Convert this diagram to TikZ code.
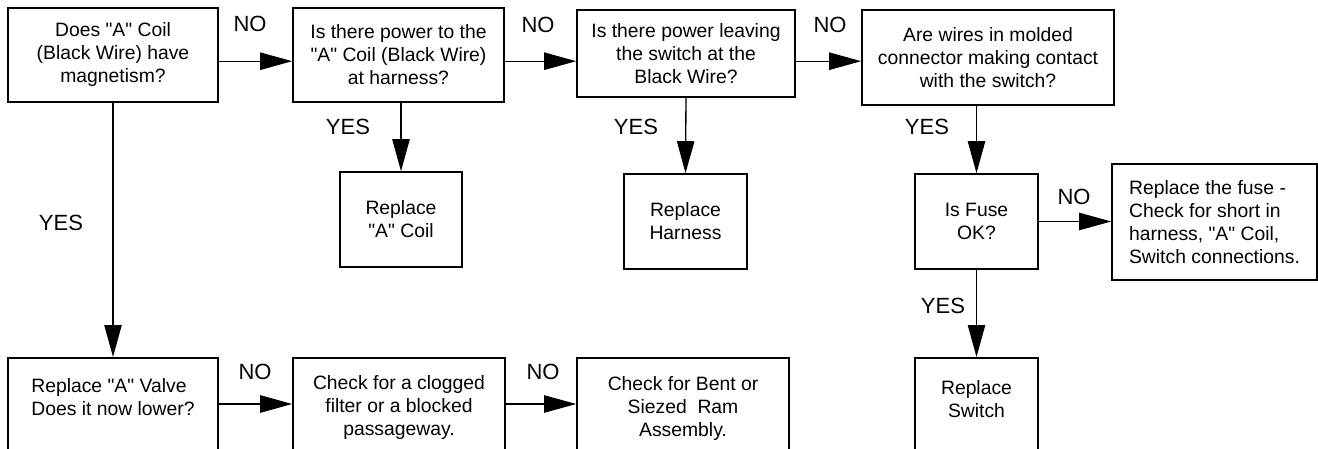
\documentclass[tikz,border=0pt]{standalone}
\usepackage{fontspec}
\setmainfont{Liberation Sans}[Ligatures=TeXOff]
\usetikzlibrary{arrows.meta}
\begin{document}
\begin{tikzpicture}[x=0.75pt,y=-0.75pt,
  box/.style={draw,line width=1.2pt,align=center,inner sep=0pt,font=\fontsize{14.5}{17.25}\selectfont},
  lowbox/.style={box,anchor=north,text depth=60pt},
  lbl/.style={inner sep=0pt,font=\fontsize{16.5}{19}\selectfont},
  flow/.style={line width=1pt,-{Triangle[length=24pt,width=13pt]}}]
  \clip (0,0) rectangle (1318,449);
  \node[box,minimum width=157.5pt,minimum height=70.5pt] (mag) at (113,55) {Does "A" Coil\\(Black Wire) have\\magnetism?};
  \node[box,minimum width=158.25pt,minimum height=70.5pt] (power) at (398.5,55) {Is there power to the\\"A" Coil (Black Wire)\\at harness?};
  \node[box,minimum width=163.5pt,minimum height=65.25pt] (leave) at (686,53.5) {Is there power leaving\\the switch at the\\Black Wire?};
  \node[box,minimum width=189pt,minimum height=71.25pt] (contact) at (988,57.5) {Are wires in molded\\connector making contact\\with the switch?};
  \node[box,minimum width=91.5pt,minimum height=71.25pt] (coil) at (401,219.5) {Replace\\"A" Coil};
  \node[box,minimum width=92.25pt,minimum height=71.25pt] (harness) at (685.5,221.5) {Replace\\Harness};
  \node[box,minimum width=92.25pt,minimum height=71.25pt] (fuse) at (976.5,221.5) {Is Fuse\\OK?};
  \node[box,align=left,minimum width=153.75pt,minimum height=87pt] (fusefix) at (1214.5,222) {Replace the fuse -\\Check for short in\\harness, "A" Coil,\\Switch connections.};
  \node[lowbox,minimum width=92.25pt,text height=45pt] (switch) at (976.5,357) {Replace\\Switch};
  \node[lowbox,align=left,minimum width=157.5pt,text height=43.5pt] (valve) at (113,357) {Replace "A" Valve\\Does it now lower?};
  \node[lowbox,minimum width=159pt,text height=58.5pt] (filter) at (399,357) {Check for a clogged\\filter or a blocked\\passageway.};
  \node[lowbox,minimum width=159pt,text height=59.25pt] (ram) at (683,357) {Check for Bent or\\Siezed~~Ram\\Assembly.};
  \node[lbl] (no1) at (250,24) {NO};
  \node[lbl] (no2) at (538,25) {NO};
  \node[lbl] (no3) at (830,25) {NO};
  \node[lbl] (no4) at (1074,197) {NO};
  \node[lbl] (no5) at (255,372) {NO};
  \node[lbl] (no6) at (543,372) {NO};
  \node[lbl] (yes1) at (61,223) {YES};
  \node[lbl] (yes2) at (348,127) {YES};
  \node[lbl] (yes3) at (636,127) {YES};
  \node[lbl] (yes4) at (927,127) {YES};
  \node[lbl] (yes5) at (943,306) {YES};
  \draw[flow] ([yshift=-40.5pt]mag.north east) -- ([yshift=-40.5pt]power.north west);
  \draw[flow] ([yshift=-40.5pt]power.north east) -- ([yshift=-39pt]leave.north west);
  \draw[flow] ([yshift=-39pt]leave.north east) -- ([yshift=-39pt]contact.north west);
  \draw[flow] (mag.south) -- (valve.north);
  \draw[flow] (coil.north |- power.south) -- (coil.north);
  \draw[flow] (leave.south) -- (harness.north);
  \draw[flow] (fuse.north |- contact.south) -- (fuse.north);
  \draw[flow] (fuse.south) -- (switch.north);
  \draw[flow] (fuse.east) -- (fusefix.west |- fuse.east);
  \draw[flow] ([yshift=-35.25pt]valve.north east) -- ([yshift=-35.25pt]filter.north west);
  \draw[flow] ([yshift=-35.25pt]filter.north east) -- ([yshift=-35.25pt]ram.north west);
\end{tikzpicture}
\end{document}
